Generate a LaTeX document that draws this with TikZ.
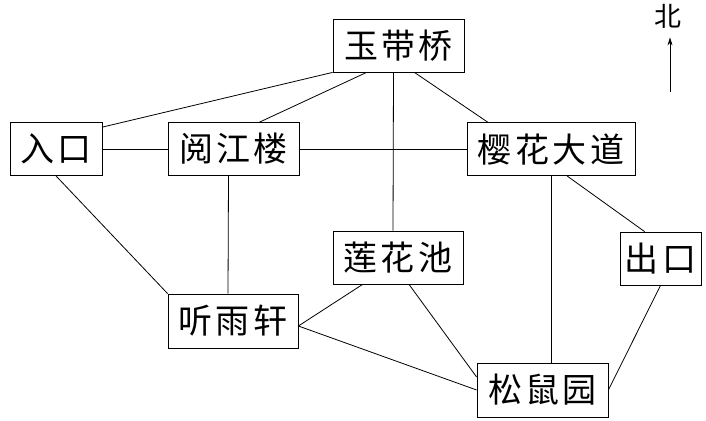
\documentclass[tikz,border=0pt]{standalone}
\usepackage{fontspec}
\usepackage{tikz}
\usetikzlibrary{arrows.meta}
\newfontfamily\cjk[LetterSpace=10]{Noto Sans CJK SC}

\begin{document}
\begin{tikzpicture}[x=1pt,y=-1pt,line width=0.8pt,
  spot/.style={draw,inner sep=0pt,minimum height=53pt,font=\cjk\fontsize{34}{34}\selectfont}]
  \useasboundingbox (0,0) rectangle (706,420);

  \node[spot,minimum width=131pt] (yudai) at (398.5,45.5){玉带桥};
  \node[spot,minimum width=92pt] (rukou) at (56,149){入口};
  \node[spot,minimum width=131pt] (yuejiang) at (233.5,149){阅江楼};
  \node[spot,minimum width=168pt] (yinghua) at (551,149){樱花大道};
  \node[spot,minimum width=130pt] (lianhua) at (398,257.5){莲花池};
  \node[spot,minimum width=81pt] (chukou) at (660.5,258.5){出口};
  \node[spot,minimum width=130pt,minimum height=54pt] (tingyu) at (233,321){听雨轩};
  \node[spot,minimum width=131pt,minimum height=54pt] (songshu) at (542.5,390){松鼠园};

  % north arrow
  \node[inner sep=0pt,font=\cjk\fontsize{27}{27}\selectfont] (bei) at (668,16){北};
  \coordinate (tail) at (670,92);
  \draw[line width=0.6pt,-{Stealth[length=8pt,width=5pt]},shorten >=9pt] (tail)--(tail |- bei.south);

  \draw (yudai.south west)--([yshift=-5pt]rukou.north east);
  \draw ([xshift=34pt]yudai.south west)--([xshift=92pt]yuejiang.north west);
  \draw ([xshift=-5pt]yudai.south)--([xshift=-5pt]lianhua.north);
  \draw ([xshift=-50pt]yudai.south east)--([xshift=21pt]yinghua.north west);
  \draw (rukou)--(yuejiang)--(yinghua);
  \draw (rukou.south)--(tingyu.north west);
  \draw ([xshift=-5pt]yuejiang.south)--([xshift=-5pt]tingyu.north);
  \draw (yinghua.south)--(yinghua.south |- songshu.north);
  \draw ([xshift=16pt]yinghua.south)--([xshift=25pt]chukou.north west);
  \draw (chukou.south)--(songshu.east);
  \draw ([xshift=30pt]lianhua.south west)--([yshift=-5pt]tingyu.east)--(songshu.west);
  \draw ([xshift=11pt]lianhua.south)--([yshift=13pt]songshu.west);
\end{tikzpicture}
\end{document}
